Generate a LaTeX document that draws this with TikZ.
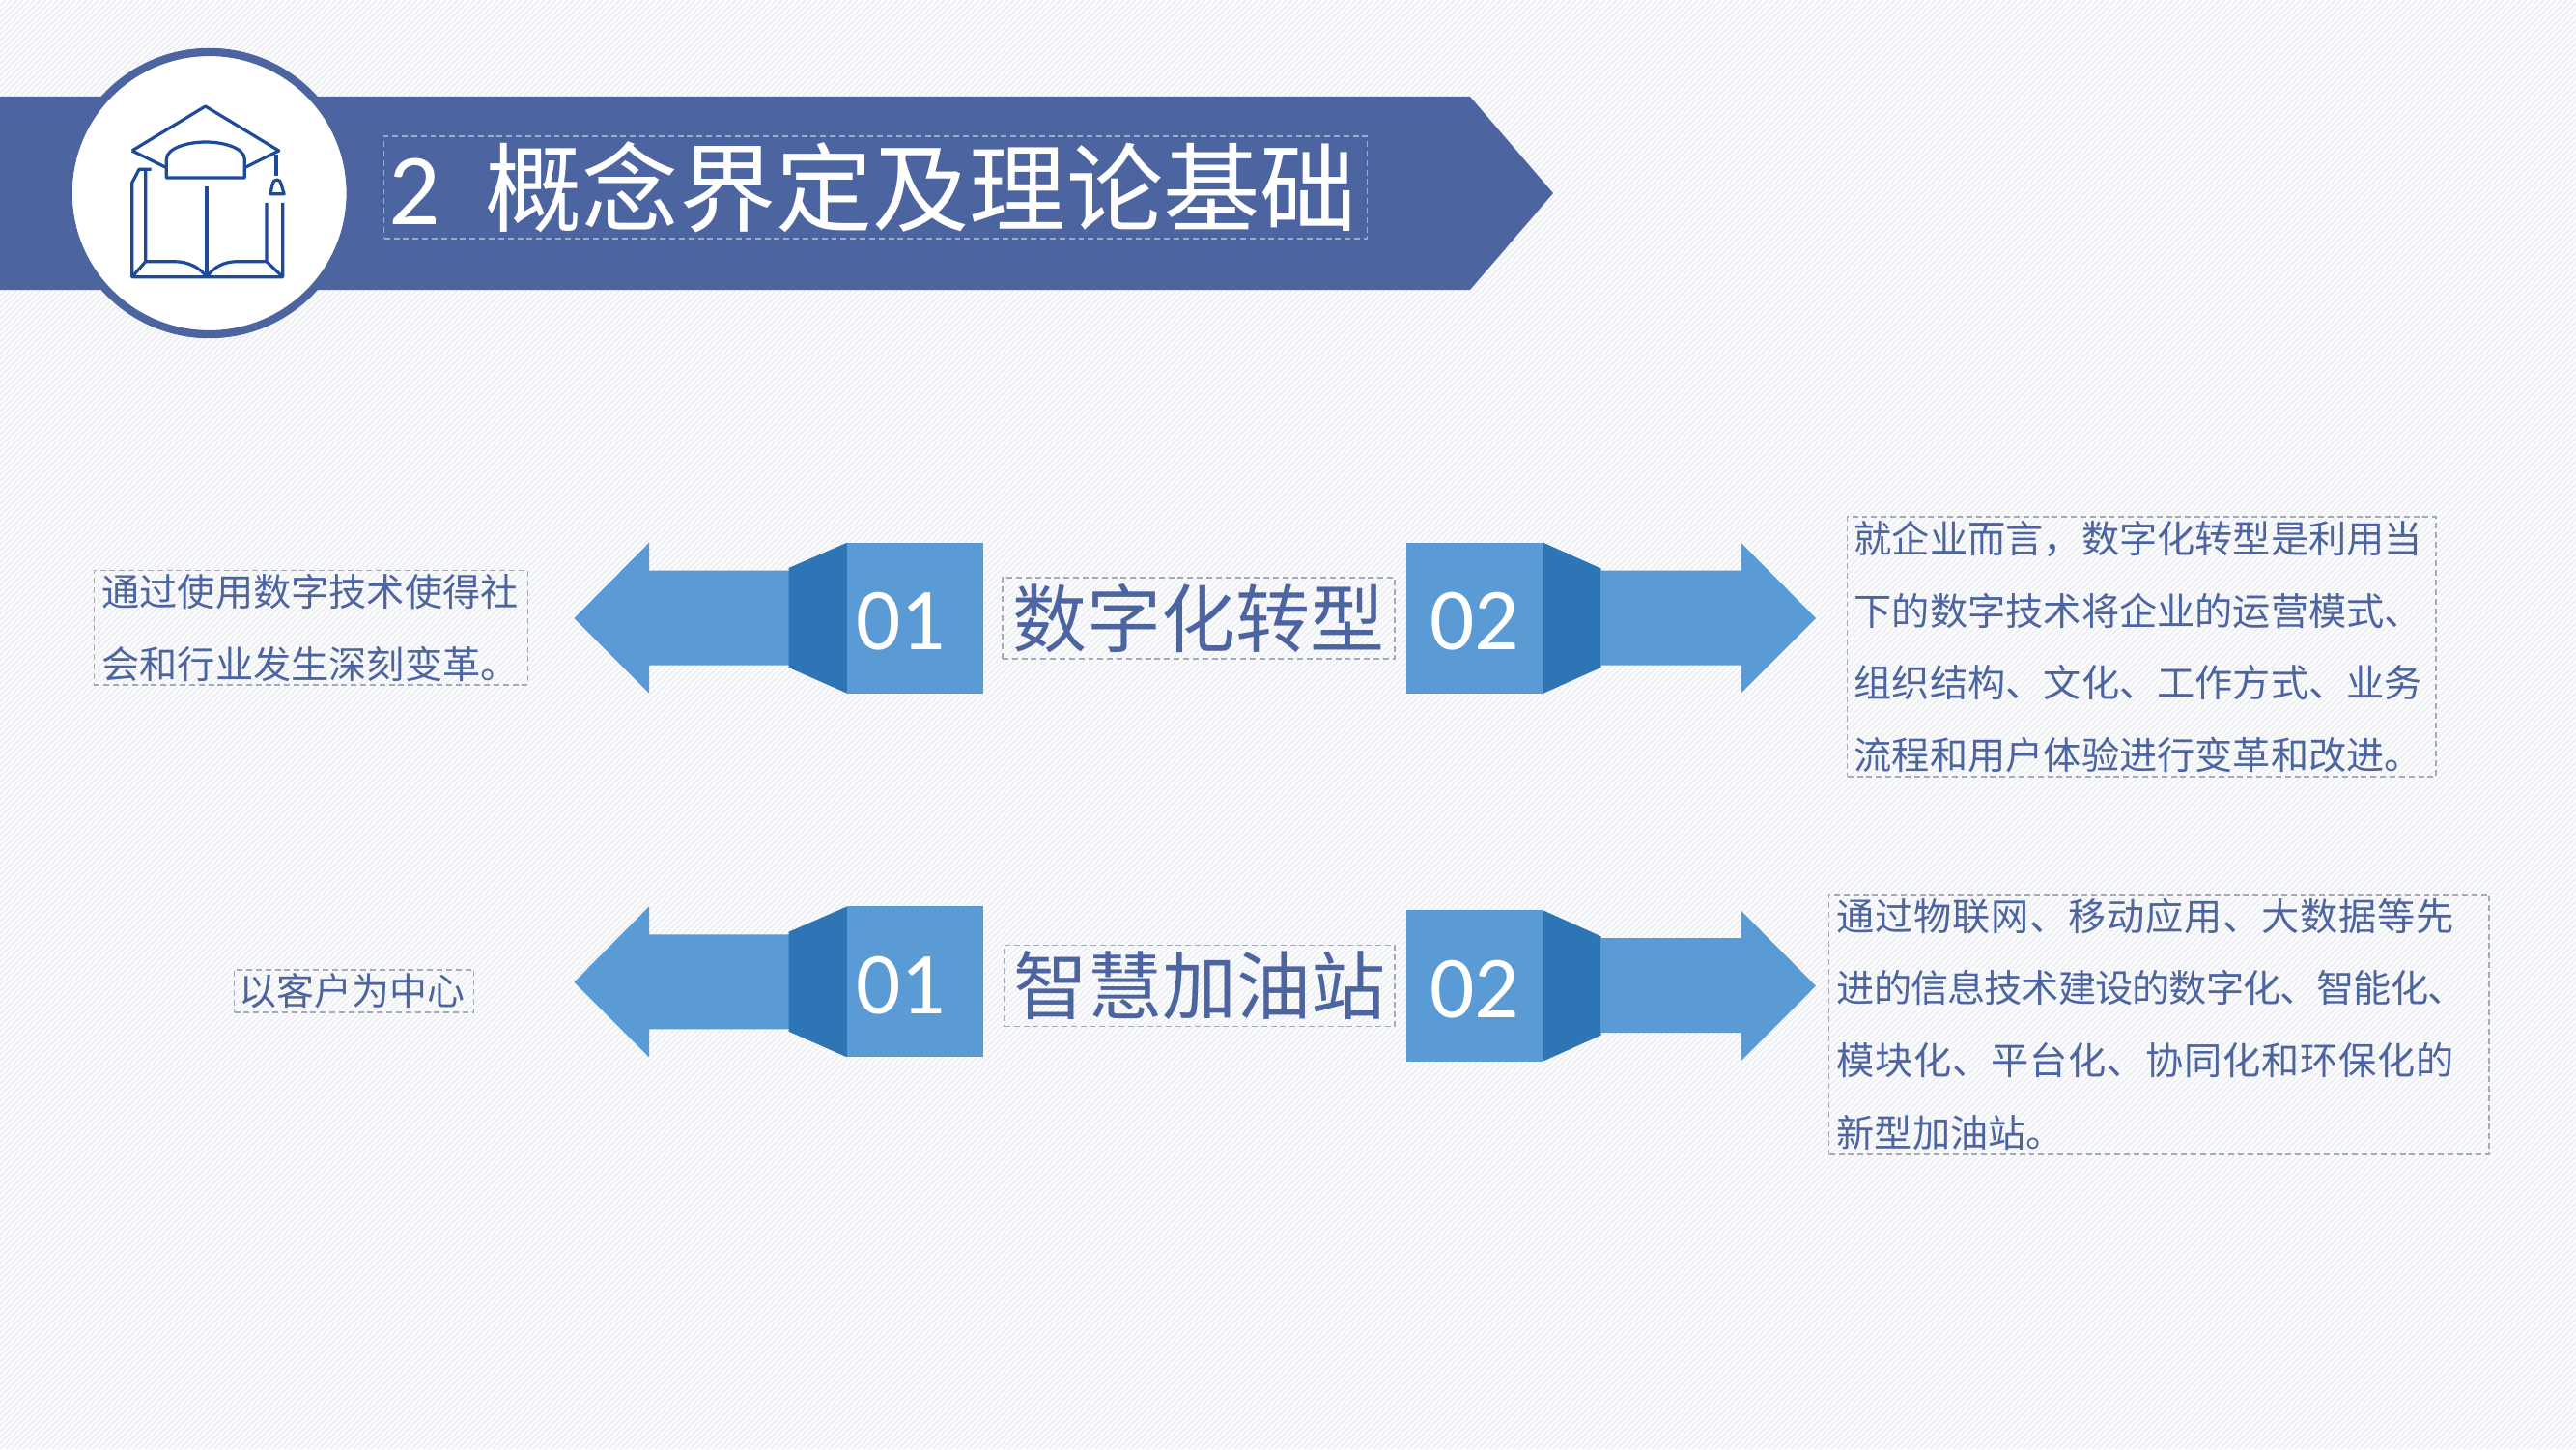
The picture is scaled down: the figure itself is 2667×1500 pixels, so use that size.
\documentclass[tikz,border=0pt]{standalone}
\usepackage{fontspec}
\setmainfont{Noto Sans CJK SC}
\newfontfamily\latinnum{Carlito}
\usetikzlibrary{arrows}

\definecolor{bannerblue}{HTML}{4C64A0}
\definecolor{arrowblue}{HTML}{5B9BD5}
\definecolor{darkblue}{HTML}{2E75B6}
\definecolor{iconblue}{HTML}{1C4A9C}
\definecolor{stripe}{HTML}{EEF0F3}
\definecolor{paper}{HTML}{FEFEFE}
\definecolor{dashgray}{HTML}{A4ABB8}

\newcommand{\wideline}[1]{{\addfontfeature{LetterSpace=1.9}#1}}
\newcommand{\tightline}[1]{{\addfontfeature{LetterSpace=-2.5}#1}}
\newcommand{\numtext}[1]{\raisebox{-0.035cm}[\height][\depth]{#1}}

\tikzset{
	bgline/.style={stripe, line width=0.02cm},
	dashbox/.style={draw=dashgray, line width=0.4pt, dash pattern=on 1.7pt off 1.1pt, inner sep=0pt, outer sep=0pt},
	sidetext/.style={dashbox, text=bannerblue, align=left, inner xsep=0.08cm, font=\fontsize{11.15}{21.3}\selectfont},
	bigtext/.style={dashbox, text=bannerblue, font=\fontsize{21.9}{26}\selectfont},
	numbox/.style={fill=arrowblue, text=white, inner sep=0pt, outer sep=0pt, font=\latinnum\fontsize{26}{30}\selectfont},
	iconline/.style={draw=iconblue, line width=0.032cm, line join=round},
}

\begin{document}
\begin{tikzpicture}[x=0.01cm, y=-0.01cm]
	\useasboundingbox (0,0) rectangle (2667,1500);

	% paper with its faint stripes
	\fill[paper] (0,0) rectangle (2667,1500);
	\begin{scope}
		\clip (0,0) rectangle (2667,1500);
		\foreach \x in {0,6,...,4170}
			\draw[bgline] (\x,0) -- (\x-1500,1500);
	\end{scope}

	% banner
	\fill[bannerblue] (0,100) -- (1522,100) -- (1608,200) -- (1522,300) -- (0,300) -- cycle;
	\node[circle, draw=bannerblue, fill=white, line width=0.083cm, minimum size=2.92cm, inner sep=0pt, outer sep=0pt] (badge) at (216.7,200) {};
	\node[dashbox, draw=white!45!bannerblue, text=white, minimum width=10.17cm, minimum height=1.06cm, font=\fontsize{28.5}{34}\selectfont] (title) at (906.5,194) {{\latinnum\fontsize{30}{34}\selectfont 2}\hspace{0.47cm}概念界定及理论基础\kern0.06cm};

	% cap
	\draw[iconline] (136.7,156) -- (212.7,110) -- (288.7,156) -- (254,173.3);
	\draw[iconline] (136.7,156) -- (171.7,173.3);
	\draw[iconline] (172.3,184) -- (172.3,165) .. controls (172.3,153) and (195,147) .. (213,147) .. controls (231,147) and (253.3,153) .. (253.3,165) -- (253.3,184) -- cycle;
	\draw[iconline] (286,160) -- (286,181.7);
	\draw[iconline] (279.8,200.7) .. controls (282,195) and (281,186) .. (286.7,186) .. controls (292,186) and (291.5,195) .. (294.2,200.7) -- cycle;
	% book
	\draw[iconline] (156.7,175.3) -- (144,175.3) -- (136.7,189.3) -- (136.7,286.7) -- (292.7,286.7) -- (292.7,210);
	\draw[iconline] (150.7,175.3) -- (150.7,270.7) -- (136.7,286.7);
	\draw[iconline] (276,210) -- (276,270.7) -- (292.7,286.7);
	\draw[iconline] (214,192.7) -- (214,286.7);
	\draw[iconline] (150.7,270.7) -- (180,270.7) .. controls (195,270.7) and (207,277) .. (214,286.7);
	\draw[iconline] (276,270.7) -- (246,270.7) .. controls (231,270.7) and (221,277) .. (214,286.7);

	% left arrows
	\foreach \dy/\nm in {0/a,376.7/b} {
		\fill[arrowblue] (594.4,640+\dy) -- (672,561.7+\dy) -- (672,590.7+\dy) -- (817,590.7+\dy) -- (817,688.7+\dy) -- (672,688.7+\dy) -- (672,717.7+\dy) -- cycle;
		\fill[darkblue] (816.5,588+\dy) -- (877,561.7+\dy) -- (877,717.7+\dy) -- (816.5,691+\dy) -- cycle;
		\node[numbox, minimum width=1.41cm, minimum height=1.56cm] (left\nm) at (947.5,639.7+\dy) {\numtext{01}\kern0.3cm};
	}

	% right arrows
	\foreach \dy/\nm in {0/a,380.7/b} {
		\fill[arrowblue] (1880,640+\dy) -- (1802.6,562+\dy) -- (1802.6,590.5+\dy) -- (1657.5,590.5+\dy) -- (1657.5,688.5+\dy) -- (1802.6,688.5+\dy) -- (1802.6,717.5+\dy) -- cycle;
		\fill[darkblue] (1597.3,561.5+\dy) -- (1657.5,588.5+\dy) -- (1657.5,691+\dy) -- (1597.3,718+\dy) -- cycle;
		\node[numbox, minimum width=1.41cm, minimum height=1.565cm] (right\nm) at (1526.7,639.8+\dy) {\numtext{02}};
	}

	% labels
	\node[bigtext, minimum width=4.06cm, minimum height=0.84cm] (digital) at (1241,639.9) {数字化转型};
	\node[bigtext, minimum width=4.04cm, minimum height=0.84cm] (station) at (1242,1020.5) {智慧加油站};

	\node[sidetext, text width=4.33cm, minimum height=1.18cm] (digleft) at (322,649.8) {通过使用数字技术使得社\\会和行业发生深刻变革。};
	\node[sidetext, inner xsep=0.05cm, text width=2.38cm, minimum height=0.44cm, font=\fontsize{11.07}{21.3}\selectfont] (staleft) at (366.7,1026) {以客户为中心};
	\node[sidetext, inner xsep=0.07cm, text width=5.95cm, minimum height=2.69cm] (digright) at (2217.4,669.5) {就企业而言，数字化转型是利用当\\下的数字技术将企业的运营模式、\\组织结构、文化、工作方式、业务\\流程和用户体验进行变革和改进。};
	\node[sidetext, text width=6.67cm, minimum height=2.69cm] (staright) at (2235.4,1060.4) {\wideline{通过物联网、移动应用、大数据等先}\\\tightline{进的信息技术建设的数字化、智能化、}\\\wideline{模块化、平台化、协同化和环保化的}\\新型加油站。};
\end{tikzpicture}
\end{document}
